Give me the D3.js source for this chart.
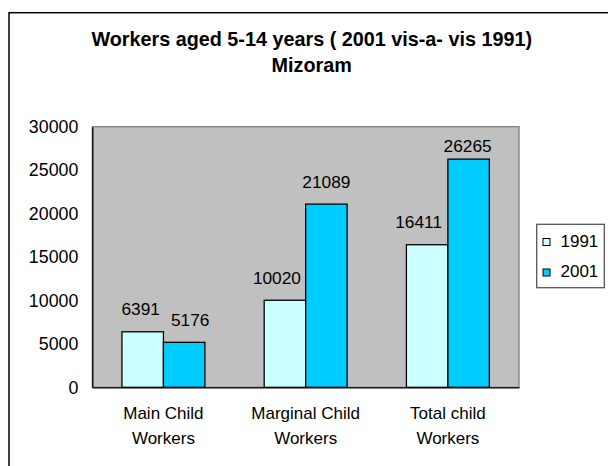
<!DOCTYPE html>
<html>
<head>
<meta charset="utf-8">
<script src="https://cdn.jsdelivr.net/npm/d3@7"></script>
<style>
  html, body { margin: 0; padding: 0; background: #fff; }
  svg { display: block; font-family: "Liberation Sans", Arial, sans-serif; }
</style>
</head>
<body>
<svg id="chart" width="608" height="466"></svg>
<script>
// ---- data ----
const categories = [["Main Child", "Workers"], ["Marginal Child", "Workers"], ["Total child", "Workers"]];
const seriesNames = ["1991", "2001"];
const values1991 = [6391, 10020, 16411];
const values2001 = [5176, 21089, 26265];
const yTicks = [0, 5000, 10000, 15000, 20000, 25000, 30000];
const titleLines = ["Workers aged 5-14 years ( 2001 vis-a- vis 1991)", "Mizoram"];

// ---- style ----
const colors = {"1991": "#CCFFFF", "2001": "#00CCFF"};
const labelNudge = {"1991": [-2, -8, -8.5], "2001": [6, 0, -1]};

const svg = d3.select("#chart");
const plot = {left: 92.3, top: 126.7, right: 519, bottom: 387.3};

// outer chart border
svg.append("rect")
  .attr("x", 9).attr("y", 12.7).attr("width", 640).attr("height", 480)
  .attr("fill", "#fff").attr("stroke", "#000").attr("stroke-width", 1.5);

// title
svg.append("g").selectAll("text").data(titleLines).join("text")
  .attr("x", 311.7).attr("y", (d, i) => 45.7 + i * 26)
  .attr("text-anchor", "middle")
  .attr("font-size", "19.8px").attr("font-weight", "bold").attr("fill", "#000")
  .text(d => d);

const keys = categories.map(c => c.join(" "));
const x0 = d3.scaleBand().domain(keys).range([plot.left, plot.right]).padding(0);
const x1 = d3.scaleBand().domain(seriesNames).range([0, x0.bandwidth()]).paddingInner(0).paddingOuter(0.715);
const y = d3.scaleLinear().domain([0, 30000]).range([plot.bottom, plot.top]);

// plot area
svg.append("rect")
  .attr("x", plot.left).attr("y", plot.top)
  .attr("width", plot.right - plot.left).attr("height", plot.bottom - plot.top)
  .attr("fill", "#C0C0C0").attr("stroke", "#808080").attr("stroke-width", 1.3);

const rows = [];
keys.forEach((k, i) => {
  rows.push({cat: k, s: "1991", v: values1991[i], i});
  rows.push({cat: k, s: "2001", v: values2001[i], i});
});

// bars
svg.append("g").selectAll("rect").data(rows).join("rect")
  .attr("x", d => x0(d.cat) + x1(d.s))
  .attr("y", d => y(d.v))
  .attr("width", x1.bandwidth())
  .attr("height", d => y(0) - y(d.v))
  .attr("fill", d => colors[d.s])
  .attr("stroke", "#000").attr("stroke-width", 1.3);

// data labels
svg.append("g").selectAll("text").data(rows).join("text")
  .attr("x", d => x0(d.cat) + x1(d.s) + x1.bandwidth() / 2 + labelNudge[d.s][d.i])
  .attr("y", d => Math.max(y(d.v) - 16.5, plot.top + 25))
  .attr("text-anchor", "middle")
  .attr("font-size", "17.3px").attr("fill", "#000")
  .text(d => d.v);

// y axis
const yAxis = svg.append("g")
  .attr("transform", `translate(${plot.left},0)`)
  .call(d3.axisLeft(y).tickValues(yTicks).tickSize(0).tickPadding(14).tickFormat(d3.format("d")));
yAxis.select(".domain").attr("stroke", "#000").attr("stroke-width", 1.3);
yAxis.selectAll("text").attr("font-size", "17.8px").attr("fill", "#000")
  .attr("font-family", "Liberation Sans, Arial, sans-serif");

// x axis
const xAxis = svg.append("g")
  .attr("transform", `translate(0,${plot.bottom})`)
  .call(d3.axisBottom(x0).tickSize(0).tickFormat(""));
xAxis.select(".domain").attr("stroke", "#000").attr("stroke-width", 1.3);

svg.append("g").selectAll("text").data(categories).join("text")
  .attr("x", (d, i) => x0(keys[i]) + x0.bandwidth() / 2)
  .attr("y", 419)
  .attr("text-anchor", "middle")
  .attr("font-size", "17px").attr("fill", "#000")
  .selectAll("tspan").data(d => d).join("tspan")
  .attr("x", function() { return d3.select(this.parentNode).attr("x"); })
  .attr("dy", (d, i) => i === 0 ? 0 : 24.5)
  .text(d => d);

// legend
const legend = svg.append("g");
legend.append("rect")
  .attr("x", 536.7).attr("y", 224.3).attr("width", 67.6).attr("height", 63.4)
  .attr("fill", "#fff").attr("stroke", "#555").attr("stroke-width", 1.3);
const li = legend.selectAll("g.item").data(seriesNames).join("g").attr("class", "item")
  .attr("transform", (d, i) => `translate(0,${i * 30.5})`);
li.append("rect")
  .attr("x", 543).attr("y", 238.5).attr("width", 7).attr("height", 7)
  .attr("fill", d => colors[d]).attr("stroke", "#000").attr("stroke-width", 1);
li.append("text")
  .attr("x", 560.5).attr("y", 246.7)
  .attr("font-size", "17px").attr("fill", "#000")
  .text(d => d);
</script>
</body>
</html>
